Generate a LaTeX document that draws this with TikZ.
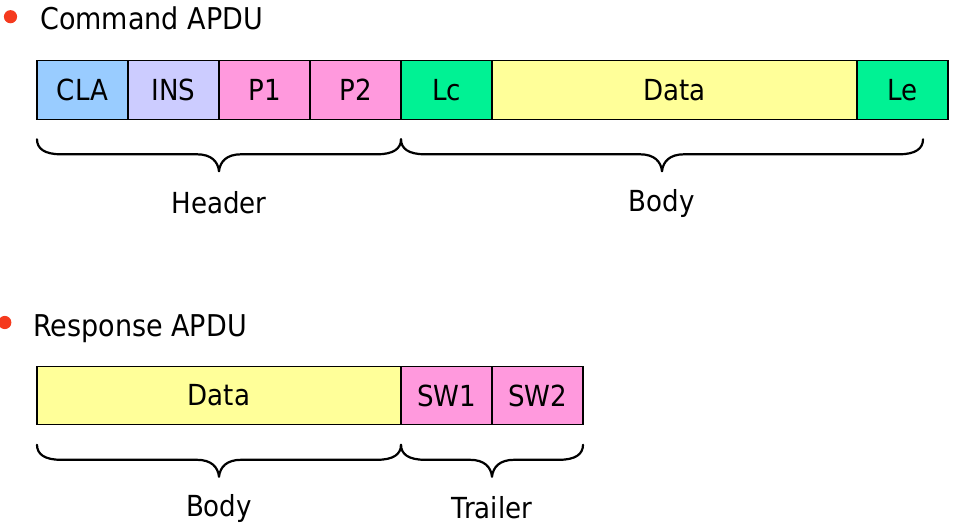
\documentclass[tikz,border=0pt]{standalone}
\usepackage{fontspec}
\setmainfont{DejaVu Sans}[FakeStretch=0.9]
\usetikzlibrary{calc}
\definecolor{clablue}{HTML}{99CCFF}
\definecolor{inslav}{HTML}{CCCCFF}
\definecolor{ppink}{HTML}{FF99DD}
\definecolor{lgreen}{HTML}{00F294}
\definecolor{dyellow}{HTML}{FFFF99}
\definecolor{bulletred}{HTML}{F53A1E}
\tikzset{
  cell/.style={draw=black, line width=1.3pt, minimum height=58.6pt, inner sep=0pt,
    outer sep=0pt, anchor=west, font=\fontsize{29}{34}\selectfont},
  title/.style={anchor=base west, inner sep=0pt, font=\fontsize{30}{36}\selectfont},
  lbl/.style={inner sep=0pt, font=\fontsize{29}{34}\selectfont},
  brc/.style={line width=2.2pt, line cap=round, line join=round},
  bul/.style={fill=bulletred, draw=none},
}
\newcommand\apbrace[2]{%
  \draw[brc] let \p1=#1, \p2=#2, \n1={0.5*\x1+0.5*\x2} in
    (\p1) .. controls (\x1,\y1-9pt) and (\x1+7pt,\y1-15pt) .. (\x1+24pt,\y1-15pt)
    -- (\n1-22pt,\y1-15pt)
    .. controls (\n1-8pt,\y1-15pt) and (\n1-1pt,\y1-22pt) .. (\n1,\y1-32pt)
    .. controls (\n1+1pt,\y1-22pt) and (\n1+8pt,\y1-15pt) .. (\n1+22pt,\y1-15pt)
    -- (\x2-24pt,\y1-15pt)
    .. controls (\x2-7pt,\y1-15pt) and (\x2,\y1-9pt) .. (\p2);}
\begin{document}
\begin{tikzpicture}[x=1pt,y=-1pt]
\useasboundingbox (0,0) rectangle (953,527);
\fill[white] (0,0) rectangle (953,527);
% ---- Command APDU
\fill[bul] (10.5,16.7) circle (6.6);
\node[title] (ctitle) at (40,30) {Command APDU};
\node[cell, fill=clablue, minimum width=91pt] (cla) at (37,90) {CLA};
\node[cell, fill=inslav, minimum width=91pt] (ins) at (cla.east) {INS};
\node[cell, fill=ppink, minimum width=91pt] (p1) at (ins.east) {P1};
\node[cell, fill=ppink, minimum width=91pt] (p2) at (p1.east) {P2};
\node[cell, fill=lgreen, minimum width=91pt] (lc) at (p2.east) {Lc};
\node[cell, fill=dyellow, minimum width=365pt] (cdata) at (lc.east) {Data};
\node[cell, fill=lgreen, minimum width=91pt] (le) at (cdata.east) {Le};
\coordinate (hb1) at ($(cla.south west)+(0,20)$);
\coordinate (hb2) at ($(p2.south east)+(0,20)$);
\coordinate (bb2) at ($(le.south east)+(-25,20)$);
\apbrace{(hb1)}{(hb2)}
\apbrace{(hb2)}{(bb2)}
\node[lbl] (header) at (219,203) {Header};
\node[lbl] (cbody) at (661.5,203) {Body};
% ---- Response APDU
\fill[bul] (4.8,322.5) circle (6.6);
\node[title] (rtitle) at (33,336.7) {Response APDU};
\node[cell, fill=dyellow, minimum width=364pt] (rdata) at (37,395.5) {Data};
\node[cell, fill=ppink, minimum width=91pt] (sw1) at (rdata.east) {SW1};
\node[cell, fill=ppink, minimum width=91pt] (sw2) at (sw1.east) {SW2};
\coordinate (rb1) at ($(rdata.south west)+(0,20)$);
\coordinate (rb2) at ($(rdata.south east)+(0,20)$);
\coordinate (rb3) at ($(sw2.south east)+(0,20)$);
\apbrace{(rb1)}{(rb2)}
\apbrace{(rb2)}{(rb3)}
\node[lbl] (rbody) at (219,508) {Body};
\node[lbl] (trailer) at (492,508) {Trailer};
\end{tikzpicture}
\end{document}
